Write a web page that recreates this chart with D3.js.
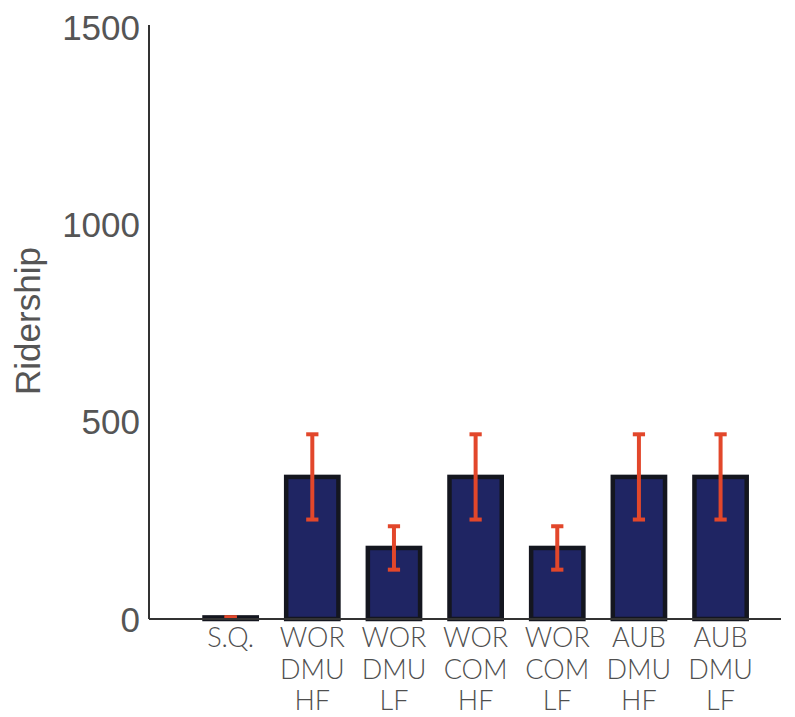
<!DOCTYPE html>
<html>
<head>
<meta charset="utf-8">
<script src="https://cdn.jsdelivr.net/npm/d3@7"></script>
<style>
  html, body { margin: 0; padding: 0; background: #fff; }
  svg { display: block; }
</style>
</head>
<body>
<svg id="chart" width="795" height="717"></svg>
<script>
// Scenario labels (one array of lines per bar)
const categories = [
  ["S.Q."],
  ["WOR", "DMU", "HF"],
  ["WOR", "DMU", "LF"],
  ["WOR", "COM", "HF"],
  ["WOR", "COM", "LF"],
  ["AUB", "DMU", "HF"],
  ["AUB", "DMU", "LF"]
];
// Mean ridership per scenario
const ridership = [4, 360, 180, 360, 180, 360, 360];
// Half-width of the error bar (± around the mean)
const errors = [0, 108, 55, 108, 55, 108, 108];
// Y-axis tick values
const yTicks = [0, 500, 1000, 1500];

const svg = d3.select("#chart");

const y = d3.scaleLinear().domain([0, 1500]).range([619, 27]);
const x = d3.scaleLinear().domain([0, 7.74]).range([149, 781]);
const barW = 0.64;

const data = categories.map((c, i) => ({
  pos: i + 1, lines: c, value: ridership[i], err: errors[i]
}));

// Bars
svg.append("g").selectAll("rect")
  .data(data)
  .join("rect")
  .attr("x", d => x(d.pos - barW / 2))
  .attr("width", d => x(d.pos + barW / 2) - x(d.pos - barW / 2))
  .attr("y", d => y(d.value))
  .attr("height", d => y(0) - y(d.value))
  .attr("fill", "#1f2563")
  .attr("stroke", "#14161f")
  .attr("stroke-width", 4.5);

// Error bars
const eb = svg.append("g")
  .attr("stroke", "#e2472b")
  .attr("stroke-width", 4);
const capW = 0.075;
data.forEach(d => {
  eb.append("line")
    .attr("x1", x(d.pos)).attr("x2", x(d.pos))
    .attr("y1", y(d.value + d.err)).attr("y2", y(d.value - d.err));
  [d.value + d.err, d.value - d.err].forEach(v => {
    eb.append("line")
      .attr("x1", x(d.pos - capW)).attr("x2", x(d.pos + capW))
      .attr("y1", y(v)).attr("y2", y(v));
  });
});

// Axes (plain lines, no tick marks)
const axes = svg.append("g").attr("stroke", "#333").attr("stroke-width", 2).attr("fill", "none");
axes.append("line").attr("x1", x(0)).attr("x2", x(0)).attr("y1", y(1500) - 2).attr("y2", y(0));
axes.append("line").attr("x1", x(0)).attr("x2", x(7.74)).attr("y1", y(0)).attr("y2", y(0));

// Y tick labels
svg.append("g").selectAll("text")
  .data(yTicks)
  .join("text")
  .attr("x", 140)
  .attr("y", d => y(d))
  .attr("dy", "0.36em")
  .attr("text-anchor", "end")
  .attr("font-family", "Liberation Sans, Arial, sans-serif")
  .attr("font-size", 35)
  .attr("fill", "#555")
  .text(d => d);

// Y axis title
svg.append("text")
  .attr("transform", `translate(40, ${y(755)}) rotate(-90)`)
  .attr("text-anchor", "middle")
  .attr("font-family", "Liberation Sans, Arial, sans-serif")
  .attr("font-size", 35)
  .attr("fill", "#555")
  .text("Ridership");

// Category labels
const catG = svg.append("g")
  .attr("font-family", "Lato, sans-serif")
  .attr("font-weight", 300)
  .attr("font-size", 27)
  .attr("fill", "#4f4f4f")
  .attr("text-anchor", "middle");
data.forEach(d => {
  d.lines.forEach((t, j) => {
    catG.append("text")
      .attr("x", x(d.pos))
      .attr("y", 647 + j * 31.5)
      .text(t);
  });
});
</script>
</body>
</html>
